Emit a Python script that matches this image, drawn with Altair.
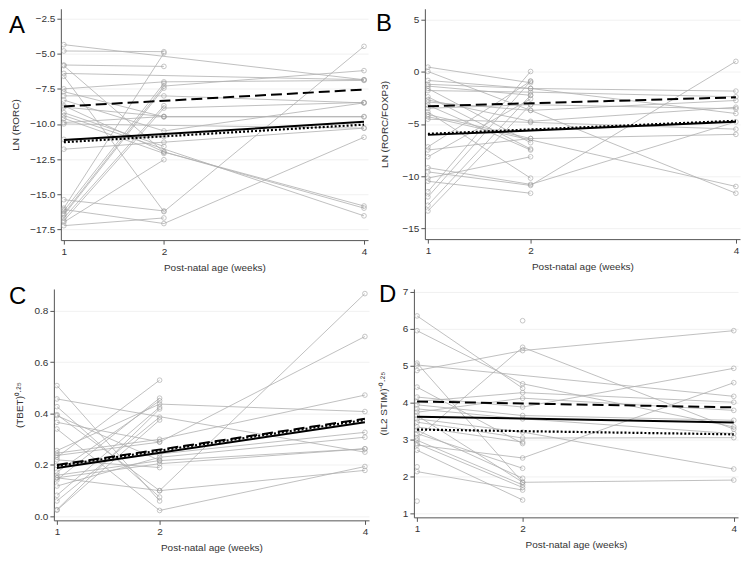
import altair as alt
import pandas as pd
import numpy as np

N = None
WEEKS = [1, 2, 4]

# ---------------- Panel A: LN (RORC) ----------------
A_w1 = [-4.35, -4.8, -5.8, -5.85, -6.4, -6.6, -7.5, -7.7, -8.0, -8.3, -8.7, -8.8, -9.2, -9.4, -9.6,
        -9.9, -10.0, -11.1, -11.8, -15.4, -16.0, -16.2, -16.4, -16.5, -16.7, -16.9, -17.0, -17.25, -16.1]
A_w2 = [N, -4.85, -5.9, -12.0, N, -16.25, -7.0, -9.5, -8.0, -10.5, -12.0, -9.47, -11.6, N, -12.1,
        -9.47, N, -10.9, -11.3, -16.2, -4.95, -7.1, -7.3, -7.45, -8.7, -8.87, -12.55, -16.7, -17.1]
A_w4 = [-6.85, N, N, -16.0, -6.85, -4.47, -6.9, -9.5, -8.5, -8.5, -15.85, N, N, -16.55, N,
        -9.47, -10.3, N, -10.3, N, N, N, -6.2, N, N, -8.47, N, N, -10.95]
A_dash = [-8.75, -7.55]
A_solid = [-11.15, -9.85]
A_dot = [-11.3, -10.05]

# ---------------- Panel B: LN (RORC/FOXP3) ----------------
B_w1 = [0.45, 0.03, -0.83, -1.37, -1.6, -1.8, -2.4, -2.7, -3.2, -3.5, -3.85, -4.1, -4.3, -4.55,
        -7.2, -7.5, -8.15, -9.2, -10.5, -11.5, -12.0, -12.8, -13.35, -9.6, -10.2, -2.9, -1.2]
B_w2 = [-1.05, -3.7, -1.6, -2.25, -6.8, -1.95, -7.4, -4.75, -7.5, -3.15, -10.2, -6.4, N, -4.85,
        -0.9, -6.4, -2.6, -10.8, -11.65, 0.03, -0.9, -2.25, -3.15, -10.9, -8.15, -3.7, -1.6]
B_w4 = [N, -11.65, -1.85, N, N, -2.4, N, -3.4, N, -3.55, N, -6.0, -11.0, -5.5,
        N, N, N, -4.8, N, N, N, N, N, 1.0, N, -2.75, -4.0]
B_dash = [-3.3, -2.45]
B_solid = [-6.05, -4.8]
B_dot = [-5.95, -4.7]

# ---------------- Panel C: (TBET)^0.25 ----------------
C_w1 = [0.509, 0.457, 0.427, 0.396, 0.392, 0.366, 0.34, 0.256, 0.246, 0.237, 0.23, 0.22, 0.198,
        0.172, 0.15, 0.142, 0.118, 0.082, 0.06, 0.026, 0.024, 0.16, 0.15]
C_w2 = [0.06, N, 0.075, 0.10, 0.218, 0.29, 0.023, 0.437, 0.30, 0.289, 0.53, 0.19, 0.243,
        0.45, 0.205, 0.46, 0.23, 0.425, 0.386, 0.418, 0.375, 0.217, 0.10]
C_w4 = [N, 0.25, N, 0.867, N, N, 0.194, 0.408, 0.472, 0.70, N, N, 0.327,
        N, 0.263, N, 0.308, N, N, N, N, 0.263, 0.179]
C_dash = [0.200, 0.380]
C_solid = [0.188, 0.366]
C_dot = [0.196, 0.375]

# ---------------- Panel D: (IL2 STIM)^-0.25 ----------------
D_w1 = [6.35, 5.95, 4.87, 5.07, 5.02, 3.04, 4.15, 2.85, 2.13, 1.33, 2.26, 3.65, 3.56, 3.94,
        3.83, 3.47, 3.34, 3.25, 3.16, 2.98, 2.89, 2.71, 4.03, N, 3.74, 4.42]
D_w2 = [4.39, 4.51, 5.41, 1.84, N, 5.5, 3.88, 2.5, 1.63, N, N, 1.84, 3.2, 3.65,
        3.56, 3.04, 2.93, 1.95, 2.22, 1.77, 1.7, 1.36, 4.27, 6.22, 4.12, 2.89]
D_w4 = [N, 3.34, 5.95, N, 4.17, 3.28, 4.93, 4.54, N, N, N, 1.9, 2.2, 3.52,
        3.16, 3.05, N, N, N, N, N, N, 4.01, N, 3.79, N]
D_dash = [4.03, 3.87]
D_solid = [3.62, 3.46]
D_dot = [3.27, 3.14]

TREND_WEEKS = [1, 4]

FONT = "Liberation Sans"
GREY_LINE = "#b0b0b0"
GREY_PT = "#9a9a9a"


def long_df(w1, w2, w4):
    rows = []
    for i, vals in enumerate(zip(w1, w2, w4)):
        for wk, v in zip(WEEKS, vals):
            if v is not None:
                rows.append({"subject": i, "week": wk, "value": v})
    return pd.DataFrame(rows)


def panel(w1, w2, w4, dash, solid, dot, ydom, yticks, ytitle, fmt, letter, lx, ly,
          width, height, tpad):
    df = long_df(w1, w2, w4)
    xsc = alt.Scale(domain=[0.97, 4.04], nice=False, zero=False)
    ysc = alt.Scale(domain=ydom, nice=False, zero=False)
    xax = alt.Axis(values=WEEKS, title="Post-natal age (weeks)", grid=False, format="d",
                   titlePadding=6, labelOverlap=False, labelFlush=False)
    yax = alt.Axis(values=yticks, title=ytitle, grid=True, format=fmt, titlePadding=tpad,
                   labelOverlap=False, labelFlush=False)
    X = alt.X("week:Q", scale=xsc, axis=xax)
    Y = alt.Y("value:Q", scale=ysc, axis=yax)
    base = alt.Chart(df)
    lines = base.mark_line(color=GREY_LINE, strokeWidth=0.8).encode(
        x=X, y=Y, detail="subject:N", order="week:Q",
    )
    pts = base.mark_point(shape="circle", filled=False, color=GREY_PT, size=22,
                          strokeWidth=0.8).encode(x=X, y=Y)
    layers = [lines, pts]
    for vals, dsh, sw in [(dash, [11, 5], 2.0), (solid, None, 2.0), (dot, [2, 2], 2.2)]:
        tdf = pd.DataFrame({"week": TREND_WEEKS, "value": vals})
        kw = dict(color="black", strokeWidth=sw)
        if dsh is not None:
            kw["strokeDash"] = dsh
        layers.append(alt.Chart(tdf).mark_line(**kw).encode(x=X, y=Y))
    lab = alt.Chart(pd.DataFrame({"t": [letter]})).mark_text(
        align="left", baseline="alphabetic", fontSize=24, font=FONT, color="black"
    ).encode(text="t:N", x=alt.value(lx), y=alt.value(ly))
    layers.append(lab)
    return alt.layer(*layers).properties(width=width, height=height)


def spacer():
    return alt.Chart(pd.DataFrame({"a": [0]})).mark_rule(opacity=0, strokeWidth=0).encode(
        x=alt.value(0), x2=alt.value(0), y=alt.value(0), y2=alt.value(0)
    ).properties(width=1, height=1)


pA = panel(A_w1, A_w2, A_w4, A_dash, A_solid, A_dot, [-18.28, -1.79],
           [-2.5, -5.0, -7.5, -10.0, -12.5, -15.0, -17.5], "LN (RORC)", ".1f",
           "A", -52, 24, 308, 232, 9)
pB = panel(B_w1, B_w2, B_w4, B_dash, B_solid, B_dot, [-16.05, 6.05],
           [5, 0, -5, -10, -15], "LN (RORC/FOXP3)", "d",
           "B", -49, 22, 316, 231, 12)
pC = panel(C_w1, C_w2, C_w4, C_dash, C_solid, C_dot, [-0.0155, 0.885],
           [0.0, 0.2, 0.4, 0.6, 0.8], "(TBET)⁰·²⁵", ".1f",
           "C", -45, 15, 316, 232, 10)
pD = panel(D_w1, D_w2, D_w4, D_dash, D_solid, D_dot, [0.89, 7.08],
           [1, 2, 3, 4, 5, 6, 7], "(IL2 STIM)⁻⁰·²⁵", "d",
           "D", -35, 13, 325, 229, 14)

row1 = alt.hconcat(spacer(), alt.hconcat(pA, pB, spacing=7), spacing=0)
row2 = alt.hconcat(spacer(), alt.hconcat(pC, pD, spacing=8), spacing=0)

chart = alt.vconcat(row1, row2, spacing=11).properties(padding=0).configure_view(
    stroke=None
).configure_axis(
    labelFont=FONT, titleFont=FONT, labelFontSize=10, titleFontSize=10,
    labelColor="#333333", titleColor="#333333", titleFontWeight="normal",
    domainColor="#555555", tickColor="#555555", tickSize=4, labelPadding=2,
    gridColor="#eeeeee", gridWidth=0.8, labelOverlap=False,
).configure_axisY(labelAngle=0)

chart.save("out.html", embed_options={"renderer": "svg", "actions": False})
